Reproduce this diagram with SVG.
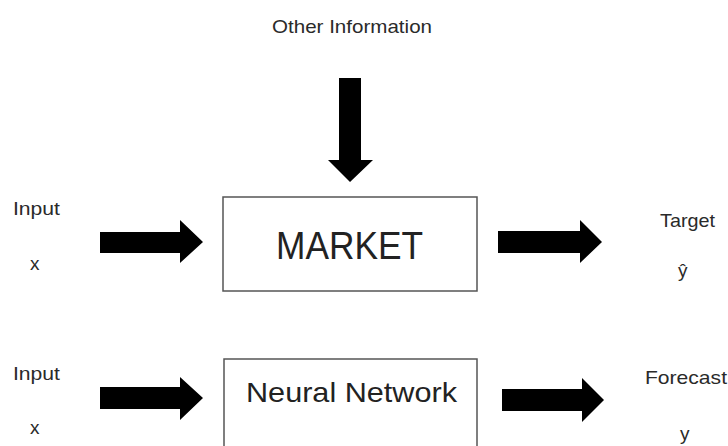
<svg xmlns="http://www.w3.org/2000/svg" width="728" height="446" viewBox="0 0 728 446">
<style>
.lbl{font-family:"Liberation Sans",Arial,sans-serif;font-size:19px;fill:#2a2a2a}
.box{fill:#fff;stroke:#555;stroke-width:1.5}
.big{font-family:"Liberation Sans",Arial,sans-serif;fill:#222}
.arr{fill:#000}
</style>
<rect width="728" height="446" fill="#fff"/>
<g id="labels">
<text class="lbl" x="272" y="33" textLength="160" lengthAdjust="spacingAndGlyphs">Other Information</text>
<text class="lbl" x="13" y="215" textLength="47" lengthAdjust="spacingAndGlyphs">Input</text>
<text class="lbl" x="30" y="270">x</text>
<text class="lbl" x="660" y="227" textLength="55" lengthAdjust="spacingAndGlyphs">Target</text>
<text class="lbl" x="678" y="277">ŷ</text>
<text class="lbl" x="13" y="380" textLength="47" lengthAdjust="spacingAndGlyphs">Input</text>
<text class="lbl" x="30" y="434">x</text>
<text class="lbl" x="645" y="384" textLength="82" lengthAdjust="spacingAndGlyphs">Forecast</text>
<text class="lbl" x="680" y="440">y</text>
</g>
<g id="market">
<rect class="box" x="223" y="197" width="254" height="94"/>
<text class="big" x="276" y="259" font-size="38" textLength="147" lengthAdjust="spacingAndGlyphs">MARKET</text>
</g>
<g id="neural-network">
<rect class="box" x="224" y="359" width="253" height="110"/>
<text class="big" x="246" y="402" font-size="28" textLength="211" lengthAdjust="spacingAndGlyphs">Neural Network</text>
</g>
<g id="connectors">
<polygon class="arr" points="339,78 361,78 361,160 373,160 350,182 328,160 339,160"/>
<polygon class="arr" points="100,232 180,232 180,220 203,242 180,263 180,253 100,253"/>
<polygon class="arr" points="498,231 580,231 580,220 602,242 580,263 580,253 498,253"/>
<polygon class="arr" points="100,387 180,387 180,377 203,398 180,420 180,409 100,409"/>
<polygon class="arr" points="502,389 582,389 582,378 604,400 582,422 582,411 502,411"/>
</g>
</svg>
